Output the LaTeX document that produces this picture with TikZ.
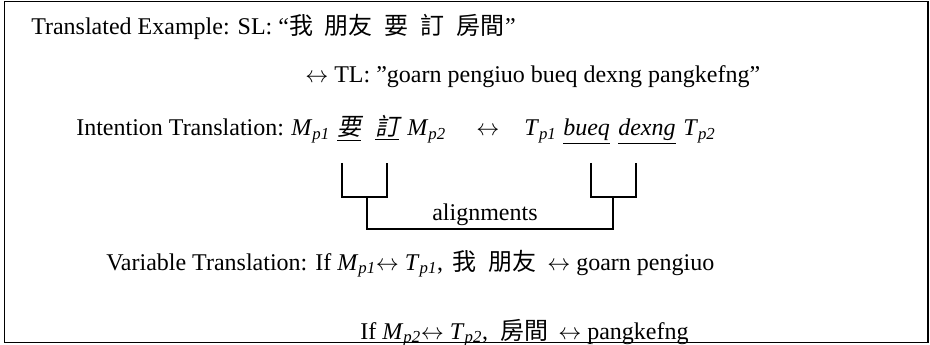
\documentclass[tikz,border=0pt]{standalone}
\usepackage{fontspec}
\setmainfont{Liberation Serif}
\newfontfamily\cjk{Noto Sans CJK TC}
\newfontfamily\cjkit[FakeSlant=0.2]{Noto Sans CJK TC}
\newcommand{\vsub}[2]{\textit{#1}\textsubscript{\textit{#2}}}
\newcommand{\cjkgap}{\hspace{0.5em}}
\newcommand{\lrarr}{\ensuremath{\leftrightarrow}}
\begin{document}
\begin{tikzpicture}[x=0.75pt,y=-0.75pt,
  txt/.style={anchor=base west, inner sep=0pt, font=\fontsize{18}{21}\selectfont},
  frame/.style={line width=1.4pt},
  brk/.style={line width=1.4pt}]
\useasboundingbox (0,0) rectangle (930,345);
\draw[frame] (4.5,1.5) rectangle (928,342.5);

% example sentence
\node[txt] (l1) at (31,35) {Translated Example: SL: “{\cjk 我\cjkgap 朋友\cjkgap 要\cjkgap 訂\cjkgap 房間}”};
\node[txt] (l2) at (305,83) {\lrarr{} TL: ”goarn pengiuo bueq dexng pangkefng”};

% intention translation
\node[txt] (it)    at (76,136)  {Intention Translation:};
\node[txt] (mp1)   at (291,136) {\vsub{M}{p1}};
\node[txt] (yao)   at (337,136) {\underline{\cjkit 要}};
\node[txt] (ding)  at (375,136) {\underline{\cjkit 訂}};
\node[txt] (mp2)   at (407,136) {\vsub{M}{p2}};
\node[txt] (arr)   at (476,136) {\lrarr};
\node[txt] (tp1)   at (524,136) {\vsub{T}{p1}};
\node[txt] (bueq)  at (563,136) {\underline{\textit{bueq}}};
\node[txt] (dexng) at (618,136) {\underline{\textit{dexng}}};
\node[txt] (tp2)   at (683,136) {\vsub{T}{p2}};

% alignment brackets
\coordinate (a1) at (342,163);
\coordinate (a2) at (387,163);
\coordinate (a3) at (591,163);
\coordinate (a4) at (636,163);
\coordinate (s1) at (367,197);
\coordinate (s2) at (613,197);
\node[txt] (al) at (432,220) {alignments};
\draw[brk] (a1) |- (a2 |- s1) -- (a2);
\draw[brk] (a3) |- (a4 |- s2) -- (a4);
\draw[brk] (s1) -- ++(0,32) -| (s2);

% variable translation
\node[txt] (vt)  at (106,270) {Variable Translation: If \vsub{M}{p1}\lrarr{} \vsub{T}{p1},};
\node[txt] (w1)  at (452,270) {\cjk 我};
\node[txt] (w2)  at (488,270) {\cjk 朋友};
\node[txt] (g1)  at (547,270) {\lrarr{} goarn pengiuo};
\node[txt] (v2)  at (360,339) {If \vsub{M}{p2}\lrarr{} \vsub{T}{p2},};
\node[txt] (w3)  at (500,339) {\cjk 房間};
\node[txt] (g2)  at (558,339) {\lrarr{} pangkefng};
\end{tikzpicture}
\end{document}
